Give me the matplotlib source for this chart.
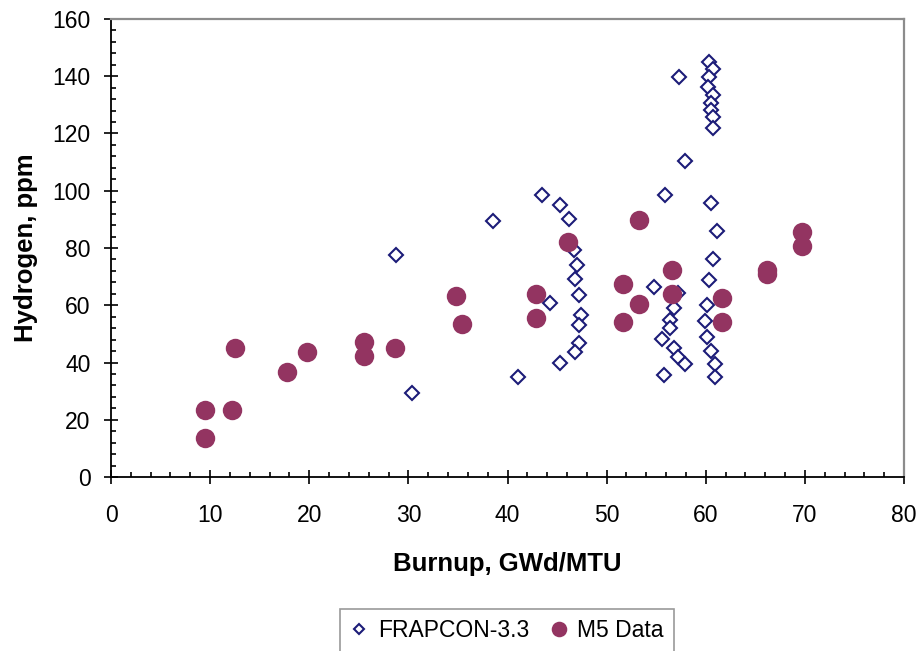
import matplotlib
matplotlib.use("Agg")
import matplotlib.pyplot as plt
from matplotlib.ticker import MultipleLocator

plt.rcParams['font.family'] = ['Liberation Sans', 'DejaVu Sans']

# FRAPCON-3.3 predictions
frap_x = [28.8, 30.4, 38.5, 41.1, 43.5, 44.3, 45.3, 45.3, 46.2, 46.7, 47.0, 46.8, 47.2,
          47.4, 47.2, 47.2, 46.8,
          60.3, 60.7, 57.3, 60.3, 60.2, 60.7, 60.5, 60.5, 60.7, 60.7, 57.9, 55.9,
          60.5, 61.1, 60.7, 60.3, 54.8, 57.2, 56.8, 60.1, 56.4, 59.9, 56.4, 55.6,
          60.1, 56.8, 60.5, 57.2, 57.9, 60.9, 55.8, 60.9]
frap_y = [77.6, 29.5, 89.4, 35.0, 98.5, 60.8, 95.1, 39.9, 90.0, 79.3, 74.1, 69.2, 63.5,
          56.5, 53.0, 46.9, 43.8,
          144.9, 142.5, 139.6, 139.8, 136.4, 133.4, 130.8, 128.2, 125.6, 122.0, 110.4, 98.4,
          95.7, 85.8, 76.2, 68.7, 66.3, 64.4, 59.2, 60.1, 54.8, 54.6, 51.9, 48.3,
          49.0, 45.0, 44.0, 42.0, 39.4, 39.4, 35.7, 35.0]

# M5 measured data
m5_x = [9.5, 9.5, 12.2, 12.5, 17.8, 19.8, 25.5, 25.5, 28.7, 34.8, 35.4, 42.9, 42.9,
        46.1, 51.7, 51.7, 53.3, 53.3, 56.6, 56.6, 61.6, 61.6, 66.2, 66.2, 69.7, 69.7]
m5_y = [23.3, 13.6, 23.4, 45.2, 36.7, 43.7, 47.0, 42.3, 45.2, 63.2, 53.4, 63.9, 55.7,
        82.2, 67.4, 54.1, 89.8, 60.4, 72.3, 63.9, 62.5, 54.1, 72.3, 70.8, 85.5, 80.7]

x_label = "Burnup, GWd/MTU"
y_label = "Hydrogen, ppm"
series_names = ["FRAPCON-3.3", "M5 Data"]

fig = plt.figure(figsize=(9.21, 6.51), dpi=100)
ax = fig.add_axes([111/921, (651-477)/651, 793/921, 458/651])

ax.plot(frap_x, frap_y, linestyle='none', marker='D', markersize=6.8,
        markerfacecolor='white', markeredgecolor='#1c1c78', markeredgewidth=1.5,
        label=series_names[0], zorder=3)
ax.plot(m5_x, m5_y, linestyle='none', marker='o', markersize=14,
        markerfacecolor='#933461', markeredgecolor='#933461', markeredgewidth=0,
        label=series_names[1], zorder=4)

ax.set_xlim(0, 80)
ax.set_ylim(0, 160)
ax.xaxis.set_major_locator(MultipleLocator(10))
ax.xaxis.set_minor_locator(MultipleLocator(2))
ax.yaxis.set_major_locator(MultipleLocator(20))
ax.yaxis.set_minor_locator(MultipleLocator(4))

ax.tick_params(axis='both', which='major', direction='inout', length=9.4, width=1.2,
               labelsize=16.5, colors='black')
ax.tick_params(axis='x', which='major', pad=15)
ax.tick_params(axis='y', which='major', pad=10)
ax.tick_params(axis='both', which='minor', direction='in', length=3.6, width=1.2)

for s in ['left', 'bottom']:
    ax.spines[s].set_color('black')
    ax.spines[s].set_linewidth(1.3)
for s in ['top', 'right']:
    ax.spines[s].set_color('#8c8c8c')
    ax.spines[s].set_linewidth(1.6)

ax.set_xlabel(x_label, fontsize=18.5, fontweight='bold', labelpad=18)
ax.set_ylabel(y_label, fontsize=18.5, fontweight='bold', labelpad=10)

leg = fig.legend(loc='upper center', bbox_to_anchor=(507/921, (651-609)/651),
                 ncol=2, frameon=True, fancybox=False, fontsize=16.5,
                 handlelength=0.8, handletextpad=0.4, columnspacing=0.9,
                 borderpad=0.45, borderaxespad=0)
leg.get_frame().set_edgecolor('#808080')
leg.get_frame().set_linewidth(1.2)
for h in leg.legend_handles:
    h.set_markersize(h.get_markersize() * 0.8)

fig.savefig('out.png', dpi=100)
